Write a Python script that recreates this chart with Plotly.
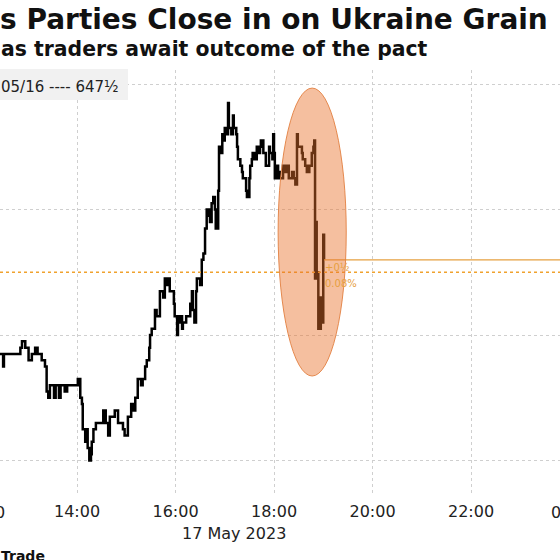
import pandas as pd
import plotly.graph_objects as go

DAY = "2023-05-17"

# intraday wheat futures, cents/bushel
times = ["12:20", "12:26", "12:30", "12:31", "12:48", "12:51", "12:53", "12:57", "13:01", "13:05",
         "13:09", "13:12", "13:17", "13:21", "13:23", "13:25", "13:27", "13:32", "13:34", "13:38",
         "13:40", "13:45", "13:48", "13:53", "13:58", "14:01", "14:04", "14:06", "14:07", "14:10",
         "14:11", "14:13", "14:15", "14:17", "14:18", "14:20", "14:23", "14:26", "14:28", "14:32",
         "14:35", "14:38", "14:40", "14:44", "14:46", "14:50", "14:52", "14:56", "14:58", "15:02",
         "15:06", "15:08", "15:11", "15:14", "15:18", "15:20", "15:23", "15:25", "15:28", "15:29",
         "15:31", "15:33", "15:35", "15:37", "15:41", "15:45", "15:47", "15:50", "15:51", "15:53",
         "15:56", "15:58", "15:59", "16:02", "16:03", "16:05", "16:08", "16:09", "16:13", "16:15",
         "16:18", "16:20", "16:21", "16:23", "16:25", "16:26", "16:30", "16:32", "16:34", "16:36",
         "16:38", "16:41", "16:42", "16:44", "16:46", "16:48", "16:49", "16:52", "16:53", "16:54",
         "16:57", "16:59", "17:00", "17:03", "17:04", "17:05", "17:08", "17:10", "17:11", "17:14",
         "17:15", "17:16", "17:19", "17:21", "17:22", "17:25", "17:26", "17:27", "17:30", "17:31",
         "17:33", "17:34", "17:37", "17:39", "17:41", "17:43", "17:44", "17:47", "17:48", "17:50",
         "17:52", "17:54", "17:55", "17:58", "17:59", "18:00", "18:01", "18:04", "18:05", "18:07",
         "18:11", "18:13", "18:16", "18:18", "18:20", "18:22", "18:24", "18:26", "18:28", "18:29",
         "18:32", "18:34", "18:35", "18:38", "18:40", "18:43", "18:44", "18:46", "18:48", "18:49",
         "18:50", "18:51", "18:52", "18:54", "18:55", "18:56", "18:57", "18:58", "19:00", "19:01"]
prices = [644.25, 644.25, 643.75, 644.25, 644.25, 644.5, 644.75, 644.5, 644.0, 644.25,
          644.5, 644.25, 644.0, 643.75, 642.75, 642.5, 643.0, 642.5, 643.0, 642.5,
          643.0, 642.75, 643.0, 643.0, 643.0, 643.25, 642.5, 642.25, 641.25, 640.75,
          641.25, 640.5, 640.0, 640.25, 640.75, 641.25, 641.5, 641.5, 641.5, 642.0,
          641.5, 641.0, 641.75, 641.75, 642.0, 641.5, 641.5, 641.25, 641.0, 641.75,
          642.25, 642.0, 642.5, 643.25, 643.0, 643.25, 643.75, 644.0, 644.5, 645.0,
          645.25, 645.25, 646.0, 645.75, 646.75, 646.5, 647.25, 647.0, 647.25, 646.75,
          646.75, 646.25, 645.75, 645.0, 645.5, 645.75, 645.25, 645.5, 645.75, 645.75,
          646.25, 646.75, 646.0, 645.5, 646.75, 647.25, 647.0, 648.0, 648.25, 649.25,
          650.0, 649.75, 649.5, 650.25, 650.5, 650.0, 649.25, 650.75, 652.5, 652.25,
          653.0, 652.75, 653.25, 653.0, 654.25, 653.25, 653.0, 653.75, 653.25, 653.0,
          652.5, 652.0, 651.75, 651.5, 651.25, 651.25, 650.75, 650.5, 651.25, 651.75,
          652.0, 652.25, 652.0, 652.5, 652.25, 652.5, 652.75, 652.25, 652.25, 651.75,
          651.75, 652.5, 652.25, 652.0, 653.0, 652.25, 651.25, 651.75, 651.5, 651.25,
          651.75, 651.5, 651.75, 651.25, 651.25, 651.5, 651.25, 651.0, 653.0, 652.5,
          652.5, 652.25, 652.0, 651.75, 651.5, 651.75, 651.75, 652.25, 652.5, 652.75,
          647.25, 649.5, 647.5, 645.25, 646.0, 645.25, 646.5, 645.5, 649.0, 648.0]

prev_close = 647.5
prev_close_label = "05/16 ---- 647½"
y_ticks = [640, 645, 650, 655]
x_ticks = ["14:00", "16:00", "18:00", "20:00", "22:00"]
edge_ticks = ["12:00", "24:00"]
x_range = ["12:26:12", "23:48:24"]
y_range = [638.59, 655.56]

# highlighted period (the ellipse)
hl_time = ["18:05", "19:28"]
hl_price = [643.37, 654.84]

FONT = "DejaVu Sans"
ORANGE = "#f0a22e"
LAST = "#e6a040"

x = pd.to_datetime([f"{DAY} {t}" for t in times])
r0 = pd.Timestamp(f"{DAY} {x_range[0]}")
r1 = pd.Timestamp(f"{DAY} {x_range[1]}")

fig = go.Figure()

fig.add_trace(go.Scatter(x=x, y=prices, mode="lines", line=dict(color="black", width=2.5, shape="hv"),
                         hoverinfo="skip", showlegend=False))

fig.update_layout(
    width=560, height=560,
    margin=dict(l=0, r=0, t=70, b=64, pad=0),
    plot_bgcolor="white", paper_bgcolor="white",
    showlegend=False,
    font=dict(family=FONT, color="#222222"),
)

fig.update_xaxes(type="date", range=[r0, r1], automargin=False,
                 tickvals=pd.to_datetime([f"{DAY} {t}" for t in x_ticks]), tickformat="%H:%M",
                 showgrid=True, gridcolor="#cfcfcf", griddash="dot", gridwidth=1,
                 zeroline=False, showline=False, ticks="", ticklabelstandoff=4,
                 tickfont=dict(size=16, family=FONT, color="#222222"))
fig.update_yaxes(range=y_range, tickvals=y_ticks, showticklabels=False, automargin=False,
                 showgrid=True, gridcolor="#cfcfcf", griddash="dot", gridwidth=1,
                 zeroline=False, showline=False)

# edge tick labels, mostly clipped by the picture border
for t in edge_ticks:
    ts = pd.Timestamp(f"{DAY} 00:00") + pd.Timedelta(t + ":00")
    frac = (ts - r0) / (r1 - r0)
    fig.add_annotation(x=frac, y=-0.038, xref="paper", yref="paper", text="00:00" if t == "24:00" else t,
                       showarrow=False, xanchor="center", yanchor="middle", xshift=4,
                       font=dict(size=16, family=FONT, color="#222222"))

# previous close box
fig.add_shape(type="rect", xref="paper", yref="paper", x0=-0.01, x1=0.2286, y0=0.9296, y1=1.0023,
              fillcolor="#f1f1f1", line=dict(width=0), layer="above")
fig.add_annotation(x=-0.002, y=0.960, xref="paper", yref="paper", text=prev_close_label,
                   showarrow=False, xanchor="left", yanchor="middle",
                   font=dict(size=15, family=FONT, color="#222222"))

# previous close line
fig.add_shape(type="line", xref="paper", yref="y", x0=0, x1=1, y0=prev_close, y1=prev_close,
              line=dict(color=ORANGE, width=1.5, dash="dot"), layer="above")

# last price line and change labels
last_t = x[-1]
last_p = prices[-1]
fig.add_shape(type="line", xref="x", yref="y", x0=last_t, x1=r1, y0=last_p, y1=last_p,
              line=dict(color=LAST, width=1.3), layer="above")
chg = last_p - prev_close
pct = chg / prev_close * 100
whole = int(abs(chg))
frac_txt = "½" if abs(chg) % 1 == 0.5 else ""
fig.add_annotation(x=last_t, y=prev_close, xref="x", yref="y", text=f"+{whole}{frac_txt}",
                   showarrow=False, xanchor="left", yanchor="middle", yshift=5, xshift=-1,
                   font=dict(size=10, family=FONT, color=LAST))
fig.add_annotation(x=last_t, y=prev_close, xref="x", yref="y", text=f"{pct:.2f}%",
                   showarrow=False, xanchor="left", yanchor="middle", yshift=-11, xshift=-1,
                   font=dict(size=10, family=FONT, color=LAST))

# highlight ellipse
fig.add_shape(type="circle", xref="x", yref="y",
              x0=pd.Timestamp(f"{DAY} {hl_time[0]}"), x1=pd.Timestamp(f"{DAY} {hl_time[1]}"),
              y0=hl_price[0], y1=hl_price[1],
              fillcolor="rgba(232,112,42,0.45)", line=dict(color="rgba(226,128,64,0.9)", width=1),
              layer="above")

# titles
fig.add_annotation(x=-0.004, y=1.1197, xref="paper", yref="paper",
                   text="<b>s Parties Close in on Ukraine Grain</b>",
                   showarrow=False, xanchor="left", yanchor="middle",
                   font=dict(size=28, family=FONT, color="#111111"))
fig.add_annotation(x=-0.002, y=1.049, xref="paper", yref="paper",
                   text="<b>as traders await outcome of the pact</b>",
                   showarrow=False, xanchor="left", yanchor="middle",
                   font=dict(size=20.4, family=FONT, color="#111111"))

fig.add_annotation(x=0.418, y=-0.0869, xref="paper", yref="paper", text="17 May 2023",
                   showarrow=False, xanchor="center", yanchor="middle",
                   font=dict(size=16, family=FONT, color="#222222"))
fig.add_annotation(x=-0.002, y=-0.1408, xref="paper", yref="paper", text="<b>Trade</b>",
                   showarrow=False, xanchor="left", yanchor="middle",
                   font=dict(size=14, family=FONT, color="#111111"))

# page body margin would push the 560px figure off the window
fig.write_html("out.html", config={"displayModeBar": False},
               post_script="document.body.style.margin='0';")
